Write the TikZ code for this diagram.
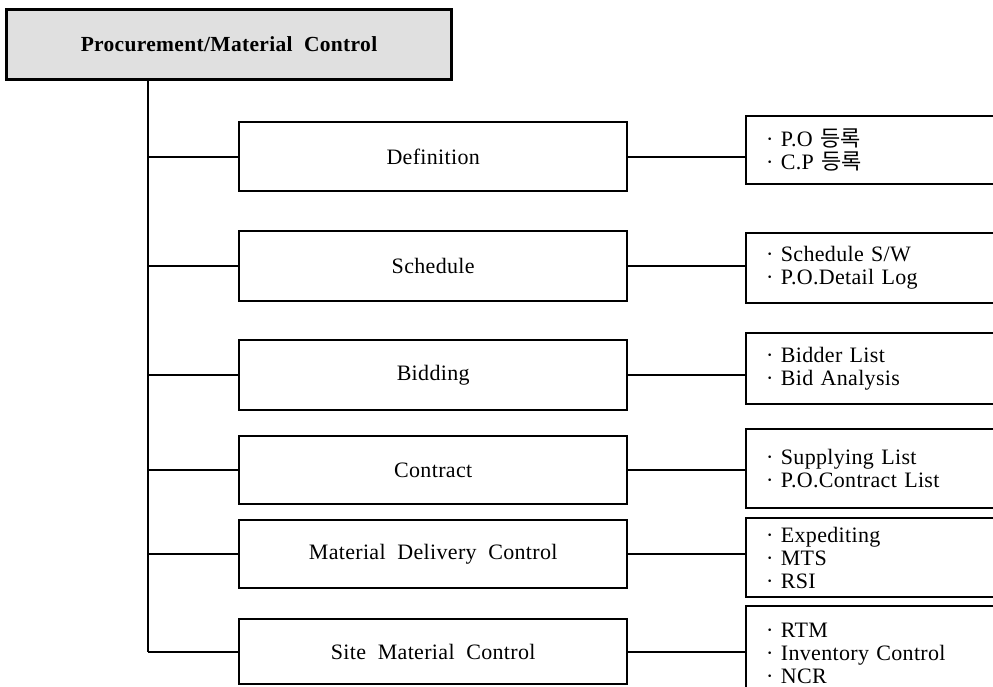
\documentclass[tikz,border=0pt]{standalone}
\usepackage{fontspec}
\setmainfont{Liberation Serif}[LetterSpace=1.5,WordSpace=2]
\newfontfamily\kofont{Noto Sans CJK KR}
\begin{document}
\begin{tikzpicture}[x=1pt,y=-1pt,
  txt/.style={font=\fontsize{22}{23}\selectfont},
  title/.style={draw, line width=3pt, fill=black!12, anchor=north west,
    minimum width=445pt, inner sep=0pt, font=\fontsize{21.5}{23}\selectfont\bfseries},
  stage/.style={draw, line width=2.4pt, anchor=north west,
    minimum width=388pt, inner sep=0pt, txt},
  outbox/.style={draw, line width=2.4pt, anchor=north west,
    text width=250pt, inner xsep=20pt, inner ysep=0pt, align=left, txt},
  link/.style={line width=2pt}]
\useasboundingbox (0,0) rectangle (993,687);
\clip (0,0) rectangle (993,687);

% top-level function (label set a little left of the box centre)
\node[title, minimum height=70pt] (top) at (5,8) {Procurement/Material Control\hspace{20pt}};

% sub-functions
\node[stage, minimum height=69pt] (m1) at (238,121) {Definition};
\node[stage, minimum height=70pt] (m2) at (238,230) {Schedule};
\node[stage, minimum height=70pt] (m3) at (238,339) {Bidding};
\node[stage, minimum height=68pt] (m4) at (238,435) {Contract};
\node[stage, minimum height=68pt] (m5) at (238,519) {Material Delivery Control};
\node[stage, minimum height=65pt] (m6) at (238,618) {Site Material Control};

% tools and outputs of each sub-function
\node[outbox, minimum height=68pt] (r1) at (745,115) {· P.O {\kofont 등록}\\· C.P {\kofont 등록}};
\node[outbox, minimum height=70pt] (r2) at (745,232) {· Schedule S/W\\· P.O.Detail Log};
\node[outbox, minimum height=71pt] (r3) at (745,332) {· Bidder List\\· Bid Analysis};
\node[outbox, minimum height=79pt] (r4) at (745,428) {· Supplying List\\· P.O.Contract List};
\node[outbox, minimum height=79pt] (r5) at (745,517) {· Expediting\\· MTS\\· RSI};
\node[outbox, minimum height=95pt] (r6) at (745,605) {· RTM\\· Inventory Control\\· NCR};

% trunk line
\coordinate (trunk) at ([xshift=143pt]top.south west);
\draw[link] (trunk) -- (trunk |- m6.west);

% branches
\foreach \i in {1,...,6}{
  \draw[link] (trunk |- m\i.west) -- (m\i.west);
  \draw[link] (m\i.east) -- (m\i.east -| r\i.west);
}
\end{tikzpicture}
\end{document}
